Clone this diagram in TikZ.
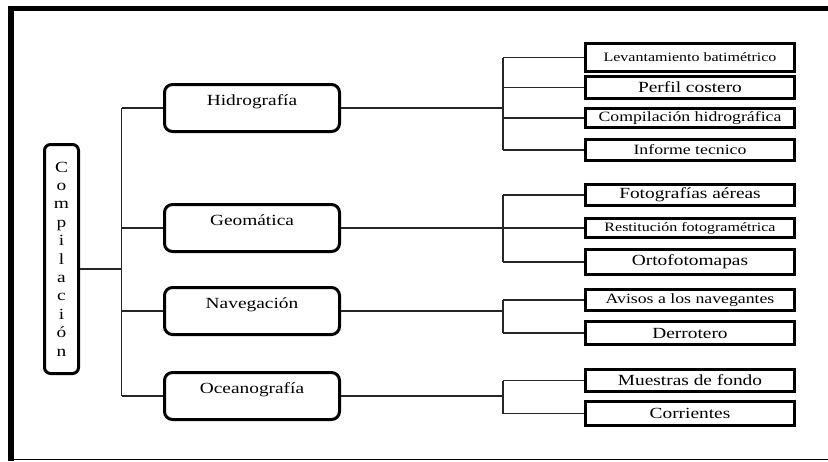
\documentclass[tikz,border=0pt]{standalone}
\usepackage{fontspec}
\setmainfont{Liberation Serif}[FakeStretch=1.25]
\usepackage{tikz}

\begin{document}
\begin{tikzpicture}[x=1pt, y=-1pt,
  raiz/.style={draw, line width=3pt, rounded corners=6pt, minimum width=34pt, minimum height=229pt, inner sep=0pt, align=center, font=\fontsize{15.5}{18.4}\selectfont},
  rama/.style={draw, line width=3pt, rounded corners=8pt, minimum width=175pt, minimum height=47pt, inner sep=0pt, text height=10pt, text depth=16pt, font=\fontsize{15.5}{18}\selectfont},
  hoja/.style={draw, line width=3pt, minimum width=209pt, inner sep=0pt, font=\fontsize{15.5}{18}\selectfont},
  chica/.style={font=\fontsize{12.8}{14}\selectfont},
  media/.style={font=\fontsize{14.2}{16}\selectfont},
  linea/.style={line width=1.2pt, black!85}]
\useasboundingbox (0,0) rectangle (828,461);

% marco
\draw[line width=5.5pt] (11,461) -- (11,8.5) -- (828,8.5);
\draw[line width=1.5pt] (8,459.5) -- (828,459.5);

% raiz y ramas
\node[raiz] (comp) at (61.5,259) {C\\o\\m\\p\\i\\l\\a\\c\\i\\ó\\n};
\node[rama] (hid) at (252,108) {Hidrografía};
\node[rama] (geo) at (252,228) {Geomática};
\node[rama] (nav) at (252,311) {Navegación};
\node[rama] (oce) at (252,396) {Oceanografía};

% hojas
\node[hoja, chica, minimum height=28pt] (lev) at (690,57.5) {Levantamiento batimétrico};
\node[hoja, minimum height=22pt] (per) at (690,87.5) {Perfil costero};
\node[hoja, media, minimum height=19pt] (com) at (690,118) {Compilación hidrográfica};
\node[hoja, media, minimum height=21pt] (inf) at (690,150) {Informe tecnico};
\node[hoja, minimum height=21pt] (fot) at (690,195) {Fotografías aéreas};
\node[hoja, chica, minimum height=19pt] (res) at (690,228) {Restitución fotogramétrica};
\node[hoja, minimum height=25pt] (ort) at (690,262) {Ortofotomapas};
\node[hoja, media, minimum height=21pt] (avi) at (690,300) {Avisos a los navegantes};
\node[hoja, minimum height=23pt] (der) at (690,333) {Derrotero};
\node[hoja, minimum height=22pt] (mue) at (690,380.5) {Muestras de fondo};
\node[hoja, minimum height=24pt] (cor) at (690,413.5) {Corrientes};

% conectores
\coordinate (tr) at (121.5,269);
\coordinate (sub) at (503,0);
\draw[linea] (comp.east |- tr) -- (tr);
\draw[linea] (hid.west -| tr) -- (oce.west -| tr);
\foreach \r in {hid,geo,nav,oce}
  \draw[linea] (\r.west -| tr) -- (\r.west);
\foreach \r/\a/\b in {hid/lev/inf, geo/fot/ort, nav/avi/der, oce/mue/cor} {
  \draw[linea] (\r.east) -- (\r.east -| sub);
  \draw[linea] (\a.west -| sub) -- (\b.west -| sub);
}
\foreach \h in {lev,per,com,inf,fot,res,ort,avi,der,mue,cor}
  \draw[linea] (\h.west -| sub) -- (\h.west);
\end{tikzpicture}
\end{document}
